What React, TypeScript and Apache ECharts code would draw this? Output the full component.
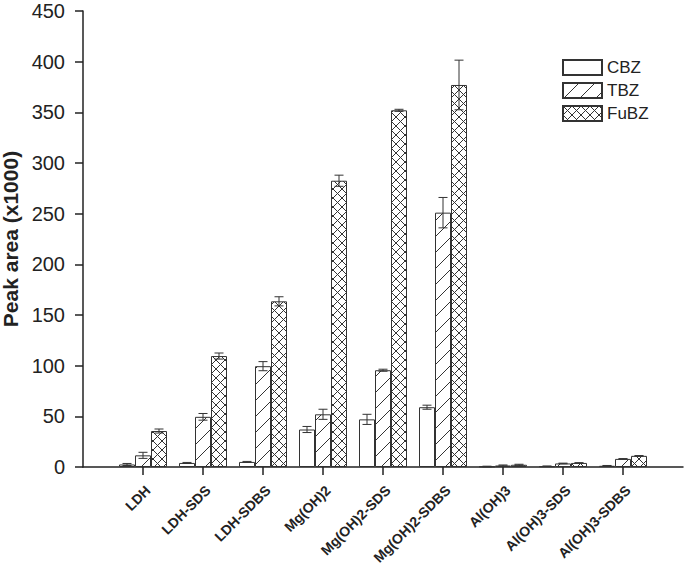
import React, { useEffect, useRef } from "react";
import * as echarts from "echarts";

const categories = [
  "LDH",
  "LDH-SDS",
  "LDH-SDBS",
  "Mg(OH)2",
  "Mg(OH)2-SDS",
  "Mg(OH)2-SDBS",
  "Al(OH)3",
  "Al(OH)3-SDS",
  "Al(OH)3-SDBS",
];
const cbz = [2.5, 4, 5, 37, 47, 59, 0.5, 0.8, 1.2];
const cbzErr = [1, 0.5, 0.5, 3, 5, 2, 0.3, 0.2, 0.3];
const tbz = [11.5, 49.5, 99.5, 52, 95.5, 251, 1.5, 3.5, 8];
const tbzErr = [3, 3.3, 4.5, 5, 1, 15, 0.5, 0.3, 0.3];
const fubz = [35.5, 109.5, 163.5, 282.5, 352, 377, 2.2, 4, 11];
const fubzErr = [2, 3, 4.5, 5.5, 1, 24.5, 0.5, 0.3, 0.3];
const yTicks = [0, 50, 100, 150, 200, 250, 300, 350, 400, 450];

const FONT = "'Liberation Sans', Arial, Helvetica, sans-serif";
const INK = "#222";

const svgUrl = (s: string) => "data:image/svg+xml;charset=utf-8," + encodeURIComponent(s);
const diagSvg = svgUrl(
  "<svg xmlns='http://www.w3.org/2000/svg' width='16' height='16'><rect width='16' height='16' fill='white'/><path d='M0,16 L16,0 M-4,4 L4,-4 M12,20 L20,12' stroke='#333' stroke-width='1' fill='none'/></svg>"
);
const crossSvg = svgUrl(
  "<svg xmlns='http://www.w3.org/2000/svg' width='9' height='9'><rect width='9' height='9' fill='white'/><path d='M0,0 L9,9 M9,0 L0,9' stroke='#333' stroke-width='1' fill='none'/></svg>"
);

export default function App() {
  const ref = useRef<HTMLDivElement>(null);
  useEffect(() => {
    if (!ref.current) return;
    const chart = echarts.init(ref.current, undefined, { renderer: "svg" });
    const axisCats = ["", ...categories, ""];
    const pad = (arr: number[]) => ["-", ...arr, "-"];
    const errData = (vals: number[], errs: number[]) =>
      vals.map((v, i) => [i + 1, v, errs[i]]);
    const BAR_W = 16;
    const errSeries = (name: string, vals: number[], errs: number[], off: number) => ({
      type: "custom",
      name: name + "-err",
      z: 5,
      silent: true,
      data: errData(vals, errs),
      renderItem: (params: any, api: any) => {
        const idx = api.value(0);
        const v = api.value(1);
        const e = api.value(2);
        const top = api.coord([idx, v + e]);
        const bot = api.coord([idx, Math.max(v - e, 0)]);
        const x = top[0] + off;
        const cap = 4.5;
        const style = { stroke: "#333", lineWidth: 1 };
        return {
          type: "group",
          children: [
            { type: "line", shape: { x1: x, y1: top[1], x2: x, y2: bot[1] }, style },
            { type: "line", shape: { x1: x - cap, y1: top[1], x2: x + cap, y2: top[1] }, style },
            { type: "line", shape: { x1: x - cap, y1: bot[1], x2: x + cap, y2: bot[1] }, style },
          ],
        };
      },
    });
    const barItem = (fill: any) => ({
      color: fill,
      borderColor: "#333",
      borderWidth: 1,
    });
    const option: any = {
      animation: false,
      backgroundColor: "#fff",
      grid: {
        left: 83,
        right: 2,
        top: 11,
        bottom: 101,
        containLabel: false,
        outerBoundsMode: "none",
      },
      legend: {
        left: 562,
        top: 59,
        padding: 0,
        orient: "vertical",
        itemWidth: 39,
        itemHeight: 15,
        itemGap: 6,
        icon: "rect",
        data: ["CBZ", "TBZ", "FuBZ"],
        textStyle: { fontFamily: FONT, fontSize: 17, lineHeight: 15, color: INK },
      },
      xAxis: {
        type: "category",
        data: axisCats,
        boundaryGap: false,
        axisLine: { lineStyle: { color: INK, width: 1.5 } },
        axisTick: {
          show: true,
          length: 8,
          inside: false,
          interval: (i: number) => i > 0 && i < axisCats.length - 1,
          lineStyle: { color: INK, width: 1.5 },
        },
        axisLabel: {
          interval: 0,
          rotate: 45,
          margin: 16,
          verticalAlign: "top",
          fontFamily: FONT,
          fontWeight: "bold",
          fontSize: 14,
          color: INK,
        },
        splitLine: { show: false },
      },
      yAxis: {
        type: "value",
        min: yTicks[0],
        max: yTicks[yTicks.length - 1],
        interval: 50,
        name: "Peak area (x1000)",
        nameLocation: "middle",
        nameGap: 61,
        nameTextStyle: { fontFamily: FONT, fontWeight: "bold", fontSize: 21, color: INK },
        axisLine: { show: true, lineStyle: { color: INK, width: 1.5 } },
        axisTick: { show: true, length: 8, inside: false, lineStyle: { color: INK, width: 1.5 } },
        axisLabel: { margin: 18, fontFamily: FONT, fontSize: 20, color: INK },
        splitLine: { show: false },
      },
      series: [
        {
          name: "CBZ",
          type: "bar",
          barWidth: BAR_W,
          barGap: "0%",
          data: pad(cbz),
          itemStyle: barItem("#ffffff"),
        },
        {
          name: "TBZ",
          type: "bar",
          barWidth: BAR_W,
          barGap: "0%",
          data: pad(tbz),
          itemStyle: barItem({
            image: diagSvg,
            repeat: "repeat",
            imageWidth: 16,
            imageHeight: 16,
          }),
        },
        {
          name: "FuBZ",
          type: "bar",
          barWidth: BAR_W,
          barGap: "0%",
          data: pad(fubz),
          itemStyle: barItem({
            image: crossSvg,
            repeat: "repeat",
            imageWidth: 9,
            imageHeight: 9,
          }),
        },
        errSeries("CBZ", cbz, cbzErr, -BAR_W),
        errSeries("TBZ", tbz, tbzErr, 0),
        errSeries("FuBZ", fubz, fubzErr, BAR_W),
      ],
    };
    chart.setOption(option);
    return () => chart.dispose();
  }, []);
  return <div ref={ref} style={{ width: 685, height: 568, position: "absolute", left: 0, top: 0 }} />;
}
